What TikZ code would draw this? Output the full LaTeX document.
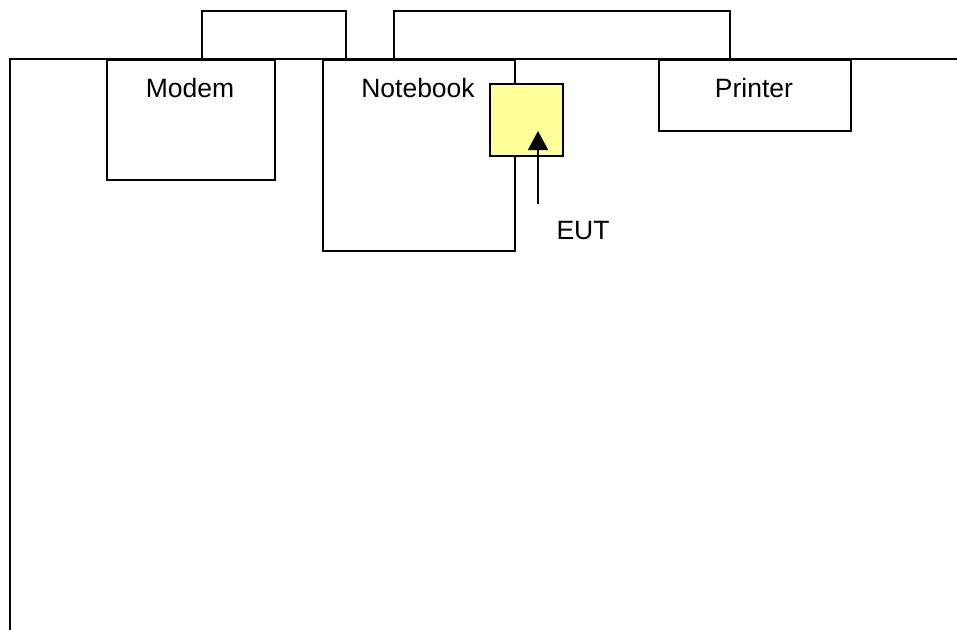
\documentclass[tikz,border=0pt]{standalone}
\usepackage{fontspec}
\setmainfont{Liberation Sans}
\usetikzlibrary{arrows.meta}
\definecolor{eutyellow}{RGB}{255,255,153}
\begin{document}
\begin{tikzpicture}[x=1pt,y=-1pt,
  dev/.style={draw=black,line width=1.9pt,rectangle,inner sep=0pt,anchor=north west},
  lbl/.style={inner sep=0pt,anchor=base,font=\fontsize{26.5}{30}\selectfont},
  wire/.style={draw=black,line width=1.9pt},
  table/.style={draw=black,line width=2.4pt}]
\useasboundingbox (0,0) rectangle (957,629);
% table edge
\coordinate (tl) at (10,59);
\coordinate (tr) at (960,59);
\coordinate (bl) at (10,632);
\draw[table] (bl) -- (tl) -- (tr);
% devices
\node[dev,minimum width=168pt,minimum height=120pt] (modem) at (106,59) {};
\node[dev,minimum width=192pt,minimum height=191pt] (notebook) at (322,59) {};
\node[dev,minimum width=192pt,minimum height=71pt] (printer) at (658,59) {};
\node[dev,fill=eutyellow,minimum width=73pt,minimum height=72pt] (eut) at (489,83) {};
% labels
\node[lbl] (modemlbl) at (190,97) {Modem};
\node[lbl] (notebooklbl) at (418,97) {Notebook};
\node[lbl] (printerlbl) at (754,97) {Printer};
\node[lbl] (eutlbl) at (583,239) {EUT};
% cables
\coordinate (c1a) at (202,59);
\coordinate (c1b) at (346,59);
\coordinate (c2a) at (394,59);
\coordinate (c2b) at (730,59);
\draw[wire] (c1a) -- (c1a |- 0,11) -- (c1b |- 0,11) -- (c1b);
\draw[wire] (c2a) -- (c2a |- 0,11) -- (c2b |- 0,11) -- (c2b);
% pointer
\coordinate (ptail) at (538,204);
\coordinate (ptip) at (538,131);
\draw[line width=1.5pt,-{Triangle[width=20pt,length=19pt]}] (ptail) -- (ptip);
\end{tikzpicture}
\end{document}
